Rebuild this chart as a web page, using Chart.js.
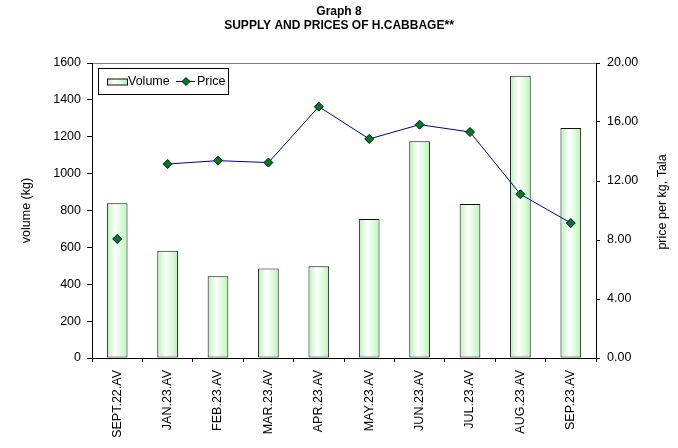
<!DOCTYPE html>
<html>
<head>
<meta charset="utf-8">
<script src="https://cdn.jsdelivr.net/npm/chart.js@4/dist/chart.umd.min.js"></script>
<style>
  html, body { margin: 0; padding: 0; background: #fff; }
  #wrap { width: 678px; height: 448px; }
</style>
</head>
<body>
<div id="wrap"><canvas id="graph8"></canvas></div>
<script>
// Data
const months = ['SEPT.22.AV', 'JAN.23.AV', 'FEB.23.AV', 'MAR.23.AV', 'APR.23.AV',
                'MAY.23.AV', 'JUN.23.AV', 'JUL.23.AV', 'AUG.23.AV', 'SEP.23.AV'];
const volume = [839, 582, 443, 486, 497, 754, 1175, 835, 1531, 1247];
const price = [8.07, 13.15, 13.38, 13.25, 17.04, 14.85, 15.82, 15.32, 11.10, 9.15];
const volumeTicks = [0, 200, 400, 600, 800, 1000, 1200, 1400, 1600];
const priceTicks = [0, 4, 8, 12, 16, 20];

const FONT = "'Liberation Sans', Arial, sans-serif";
const BAR_PCT = 0.41;

function greenFill(ctx, x0, x1) {
    const g = ctx.createLinearGradient(x0, 0, x1, 0);
    g.addColorStop(0, '#b8f2b8');
    g.addColorStop(0.4, '#ffffff');
    g.addColorStop(0.75, '#d6fbd6');
    g.addColorStop(1, '#b8f2b8');
    return g;
}

// light green bar with a white centre
function barGradient(c) {
    const chart = c.chart;
    const area = chart.chartArea;
    if (!area || c.dataIndex === undefined) return '#ccffcc';
    const x = chart.scales.x.getPixelForValue(c.dataIndex);
    const half = (area.right - area.left) / months.length * BAR_PCT / 2;
    return greenFill(chart.ctx, x - half, x + half);
}

// legend box and right axis title, drawn like the spreadsheet does
const extras = {
    id: 'extras',
    afterDraw(chart) {
        const ctx = chart.ctx;
        const a = chart.chartArea;
        const bx = a.left + 6, by = a.top + 5;
        ctx.save();
        ctx.fillStyle = '#fff';
        ctx.strokeStyle = '#000';
        ctx.lineWidth = 1;
        ctx.fillRect(bx, by, 130, 26);
        ctx.strokeRect(bx + 0.5, by + 0.5, 130, 26);

        const cy = by + 13.5;
        ctx.fillStyle = greenFill(ctx, bx + 9, bx + 29);
        ctx.fillRect(bx + 9, cy - 3, 20, 6);
        ctx.strokeStyle = '#111';
        ctx.strokeRect(bx + 9.5, cy - 2.5, 20, 6);

        ctx.fillStyle = '#000';
        ctx.font = '12.5px ' + FONT;
        ctx.textBaseline = 'middle';
        ctx.fillText('Volume', bx + 30, cy);

        ctx.strokeStyle = '#000080';
        ctx.beginPath();
        ctx.moveTo(bx + 78, cy);
        ctx.lineTo(bx + 97, cy);
        ctx.stroke();
        ctx.beginPath();
        ctx.moveTo(bx + 88, cy - 4);
        ctx.lineTo(bx + 92, cy);
        ctx.lineTo(bx + 88, cy + 4);
        ctx.lineTo(bx + 84, cy);
        ctx.closePath();
        ctx.fillStyle = '#008000';
        ctx.fill();
        ctx.stroke();
        ctx.fillStyle = '#000';
        ctx.fillText('Price', bx + 99, cy);

        ctx.translate(663, 202);
        ctx.rotate(-Math.PI / 2);
        ctx.textAlign = 'center';
        ctx.fillText('price per kg, Tala', 0, 0);
        ctx.restore();
    }
};

new Chart(document.getElementById('graph8'), {
    data: {
        labels: months,
        datasets: [
            {
                type: 'line',
                label: 'Price',
                data: price,
                yAxisID: 'y1',
                order: 0,
                borderColor: '#000080',
                borderWidth: 1,
                pointStyle: 'rectRot',
                pointRadius: 4.5,
                pointBackgroundColor: '#008000',
                pointBorderColor: '#000080',
                pointBorderWidth: 1,
                segment: {
                    // no line between Sept 22 and Jan 23
                    borderColor: s => s.p0DataIndex === 0 ? 'rgba(0,0,0,0)' : '#000080'
                }
            },
            {
                type: 'bar',
                label: 'Volume',
                data: volume,
                yAxisID: 'y',
                order: 1,
                backgroundColor: barGradient,
                borderColor: '#111',
                borderWidth: 1,
                borderSkipped: false,
                barPercentage: BAR_PCT,
                categoryPercentage: 1
            }
        ]
    },
    options: {
        responsive: true,
        maintainAspectRatio: false,
        animation: false,
        layout: { padding: { top: 4, left: 0, right: 0, bottom: 0 } },
        plugins: {
            legend: { display: false },
            tooltip: { enabled: false },
            title: {
                display: true,
                text: ['Graph 8', 'SUPPLY AND PRICES OF H.CABBAGE**'],
                color: '#000',
                font: { family: FONT, size: 12, weight: 'bold', lineHeight: 1.2 },
                padding: { top: 0, bottom: 30.2 }
            }
        },
        scales: {
            x: {
                offset: true,
                grid: { offset: true, drawOnChartArea: false, tickLength: 4, tickColor: '#000' },
                border: { color: '#000', width: 1 },
                ticks: {
                    color: '#000',
                    font: { family: FONT, size: 12.5 },
                    minRotation: 90,
                    maxRotation: 90,
                    autoSkip: false,
                    padding: 8
                },
                afterFit: s => { s.height = 90; }
            },
            y: {
                position: 'left',
                min: 0,
                max: 1600,
                afterBuildTicks: s => { s.ticks = volumeTicks.map(v => ({ value: v })); },
                grid: {
                    color: c => c.tick && c.tick.value === 1600 ? '#808080' : 'rgba(0,0,0,0)',
                    tickColor: '#000',
                    tickLength: 5
                },
                border: { color: '#000', width: 1 },
                ticks: {
                    color: '#000',
                    font: { family: FONT, size: 12.5 },
                    padding: 6,
                    callback: v => String(v)
                },
                title: {
                    display: true,
                    text: 'volume (kg)',
                    color: '#000',
                    font: { family: FONT, size: 12.5 },
                    padding: { top: 19.5, bottom: 0 }
                },
                afterFit: s => { s.width = 92; }
            },
            y1: {
                position: 'right',
                min: 0,
                max: 20,
                afterBuildTicks: s => { s.ticks = priceTicks.map(v => ({ value: v })); },
                grid: { drawOnChartArea: false, tickColor: '#000', tickLength: 4 },
                border: { color: '#000', width: 1 },
                ticks: {
                    color: '#000',
                    font: { family: FONT, size: 12.5 },
                    padding: 7,
                    callback: v => v.toFixed(2)
                },
                afterFit: s => { s.width = 82; }
            }
        }
    },
    plugins: [extras]
});
</script>
</body>
</html>
